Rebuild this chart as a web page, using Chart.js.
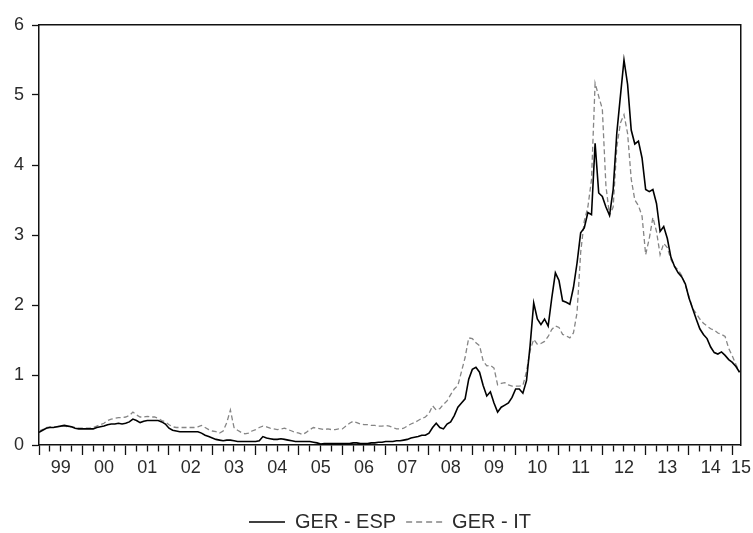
<!DOCTYPE html>
<html>
<head>
<meta charset="utf-8">
<script src="https://cdn.jsdelivr.net/npm/chart.js@4/dist/chart.umd.min.js"></script>
<style>
  html, body { margin: 0; padding: 0; background: #ffffff; }
  #wrap { width: 753px; height: 533px; }
</style>
</head>
<body>
<div id="wrap"><canvas id="chart" width="753" height="533"></canvas></div>
<script>
// Monthly 10-year bond yield spreads (percentage points), Jan 1999 - Mar 2015
const startYear = 1999;
const endX = 2015.2;

const gerEsp = [
  0.18, 0.21, 0.24, 0.25, 0.25, 0.26, 0.27, 0.28, 0.27, 0.26, 0.24, 0.23,  // 1999
  0.23, 0.23, 0.23, 0.23, 0.25, 0.26, 0.27, 0.29, 0.30, 0.30, 0.31, 0.30,  // 2000
  0.31, 0.33, 0.37, 0.35, 0.32, 0.34, 0.35, 0.35, 0.35, 0.35, 0.33, 0.30,  // 2001
  0.24, 0.21, 0.20, 0.19, 0.19, 0.19, 0.19, 0.19, 0.19, 0.17, 0.14, 0.12,  // 2002
  0.10, 0.08, 0.07, 0.06, 0.07, 0.07, 0.06, 0.05, 0.05, 0.05, 0.05, 0.05,  // 2003
  0.05, 0.06, 0.12, 0.10, 0.09, 0.08, 0.08, 0.09, 0.08, 0.07, 0.06, 0.05,  // 2004
  0.05, 0.05, 0.05, 0.05, 0.04, 0.03, 0.015, 0.02, 0.02, 0.02, 0.02, 0.02, // 2005
  0.02, 0.02, 0.02, 0.03, 0.03, 0.02, 0.02, 0.02, 0.03, 0.03, 0.04, 0.04,  // 2006
  0.05, 0.05, 0.05, 0.06, 0.06, 0.07, 0.08, 0.10, 0.11, 0.12, 0.14, 0.14,  // 2007
  0.17, 0.25, 0.31, 0.25, 0.23, 0.30, 0.33, 0.42, 0.54, 0.60, 0.66, 0.94,  // 2008
  1.08, 1.11, 1.04, 0.85, 0.70, 0.76, 0.60, 0.47, 0.54, 0.57, 0.60, 0.68,  // 2009
  0.80, 0.80, 0.74, 0.92, 1.42, 2.03, 1.80, 1.72, 1.80, 1.70, 2.10, 2.46,  // 2010
  2.35, 2.06, 2.04, 2.01, 2.25, 2.60, 3.03, 3.10, 3.32, 3.29, 4.31, 3.60,  // 2011
  3.55, 3.40, 3.28, 3.65, 4.45, 4.98, 5.50, 5.15, 4.50, 4.30, 4.34, 4.10,  // 2012
  3.65, 3.62, 3.65, 3.45, 3.05, 3.12, 2.95, 2.68, 2.55, 2.46, 2.40, 2.30,  // 2013
  2.10, 1.95, 1.80, 1.66, 1.58, 1.52, 1.40, 1.32, 1.30, 1.33, 1.28, 1.22,  // 2014
  1.18, 1.12, 1.04                                                          // 2015
];

const gerIt = [
  0.20, 0.22, 0.25, 0.26, 0.26, 0.26, 0.27, 0.27, 0.26, 0.26, 0.25, 0.24,  // 1999
  0.24, 0.24, 0.24, 0.25, 0.27, 0.29, 0.31, 0.35, 0.37, 0.38, 0.39, 0.39,  // 2000
  0.40, 0.42, 0.47, 0.43, 0.40, 0.40, 0.41, 0.40, 0.40, 0.38, 0.35, 0.33,  // 2001
  0.29, 0.26, 0.25, 0.25, 0.25, 0.25, 0.25, 0.25, 0.26, 0.28, 0.25, 0.22,  // 2002
  0.20, 0.19, 0.17, 0.20, 0.32, 0.50, 0.25, 0.21, 0.18, 0.16, 0.17, 0.20,  // 2003
  0.22, 0.25, 0.27, 0.26, 0.24, 0.23, 0.22, 0.23, 0.24, 0.22, 0.20, 0.18,  // 2004
  0.17, 0.15, 0.18, 0.22, 0.25, 0.24, 0.23, 0.22, 0.23, 0.22, 0.22, 0.23,  // 2005
  0.23, 0.27, 0.31, 0.34, 0.32, 0.30, 0.29, 0.29, 0.28, 0.28, 0.27, 0.27,  // 2006
  0.28, 0.27, 0.25, 0.23, 0.23, 0.24, 0.27, 0.30, 0.32, 0.35, 0.38, 0.40,  // 2007
  0.45, 0.56, 0.50, 0.52, 0.58, 0.63, 0.72, 0.80, 0.85, 1.05, 1.25, 1.53,  // 2008
  1.52, 1.46, 1.42, 1.20, 1.13, 1.14, 1.10, 0.86, 0.88, 0.89, 0.86, 0.84,  // 2009
  0.84, 0.84, 0.85, 1.05, 1.35, 1.51, 1.44, 1.45, 1.48, 1.55, 1.65, 1.70,  // 2010
  1.68, 1.58, 1.56, 1.53, 1.60, 1.89, 2.75, 3.20, 3.40, 3.79, 5.17, 4.98,  // 2011
  4.80, 3.70, 3.28, 3.40, 4.25, 4.60, 4.72, 4.45, 3.80, 3.50, 3.42, 3.27,  // 2012
  2.72, 2.95, 3.25, 3.05, 2.72, 2.88, 2.82, 2.65, 2.55, 2.50, 2.42, 2.28,  // 2013
  2.12, 1.95, 1.88, 1.80, 1.74, 1.70, 1.66, 1.64, 1.60, 1.58, 1.55, 1.38,  // 2014
  1.27, 1.15, 1.04                                                          // 2015
];

const yearLabels = ['99', '00', '01', '02', '03', '04', '05', '06', '07',
                    '08', '09', '10', '11', '12', '13', '14', '15'];
const seriesNames = ['GER - ESP', 'GER - IT'];

// monthly observations placed on a fractional-year axis
const toPoints = (arr) => arr.map((v, i) => ({ x: startYear + i / 12, y: v }));

// quarterly tick marks; every fourth one starts a year
const quarterTicks = [];
for (let q = 0; q <= (yearLabels.length - 1) * 4; q++) quarterTicks.push(startYear + q / 4);
// year labels sit in the middle of each year, the last one at the axis end
const labelTicks = yearLabels.map((s, i) => Math.min(startYear + i + 0.5, endX));

const textColor = '#2b2b2b';
const frameColor = '#111111';
Chart.defaults.font.family = '"Liberation Sans", Arial, sans-serif';
Chart.defaults.color = textColor;

// legend samples take the line style of their dataset (width and dash)
const legendLabels = (chart) =>
  Chart.defaults.plugins.legend.labels.generateLabels(chart).map((item) => {
    const ds = chart.data.datasets[item.datasetIndex];
    return {
      ...item,
      strokeStyle: ds.borderColor,
      lineWidth: ds.borderWidth,
      lineDash: ds.borderDash ? [6, 4] : []
    };
  });

new Chart(document.getElementById('chart'), {
  type: 'line',
  data: {
    datasets: [
      {
        label: seriesNames[0],
        data: toPoints(gerEsp),
        borderColor: '#000000',
        backgroundColor: '#000000',
        borderWidth: 1.6,
        pointRadius: 0,
        pointStyle: 'line',
        tension: 0,
        xAxisID: 'x',
        yAxisID: 'y'
      },
      {
        label: seriesNames[1],
        data: toPoints(gerIt),
        borderColor: '#858585',
        backgroundColor: '#858585',
        borderWidth: 1.3,
        borderDash: [5, 3],
        pointRadius: 0,
        pointStyle: 'line',
        tension: 0,
        xAxisID: 'x',
        yAxisID: 'y'
      }
    ]
  },
  options: {
    responsive: false,
    animation: false,
    events: [],
    layout: { padding: { left: 0, right: 11, top: 25, bottom: -9 } },
    scales: {
      x: {
        type: 'linear',
        position: 'bottom',
        min: startYear,
        max: endX,
        afterBuildTicks: (s) => { s.ticks = quarterTicks.map(v => ({ value: v })); },
        afterFit: (s) => { s.height = 10; },
        ticks: { display: false },
        grid: {
          drawOnChartArea: false,
          drawTicks: true,
          tickLength: 10,
          tickColor: frameColor,
          tickWidth: 1.3,
          tickBorderDash: (c) => (c.index % 4 === 0 ? [] : [6, 40])
        },
        border: { display: true, color: frameColor, width: 1.5 }
      },
      xLabels: {
        type: 'linear',
        position: 'bottom',
        min: startYear,
        max: endX,
        afterBuildTicks: (s) => { s.ticks = labelTicks.map(v => ({ value: v })); },
        afterFit: (s) => { s.height = 47; },
        ticks: {
          autoSkip: false,
          maxRotation: 0,
          padding: 2,
          font: { size: 18 },
          color: textColor,
          callback: (v, i) => yearLabels[i]
        },
        grid: { display: false, drawTicks: false },
        border: { display: false }
      },
      xTop: {
        type: 'linear',
        position: 'top',
        min: startYear,
        max: endX,
        ticks: { display: false },
        grid: { display: false, drawTicks: false },
        border: { display: true, color: frameColor, width: 1.5 }
      },
      y: {
        type: 'linear',
        position: 'left',
        min: 0,
        max: 6,
        afterFit: (s) => { s.width = 39; },
        ticks: { stepSize: 1, padding: 8, font: { size: 18 }, color: textColor },
        grid: {
          drawOnChartArea: false,
          drawTicks: true,
          tickLength: 7,
          tickColor: frameColor,
          tickWidth: 1.3
        },
        border: { display: true, color: frameColor, width: 1.5 }
      },
      yRight: {
        type: 'linear',
        position: 'right',
        min: 0,
        max: 6,
        ticks: { display: false },
        grid: { display: false, drawTicks: false },
        border: { display: true, color: frameColor, width: 1.5 }
      }
    },
    plugins: {
      legend: {
        display: true,
        position: 'bottom',
        fullSize: false,
        labels: {
          usePointStyle: true,
          pointStyleWidth: 36,
          padding: 10,
          color: textColor,
          font: { size: 20 },
          generateLabels: legendLabels
        }
      },
      tooltip: { enabled: false }
    }
  }
});
</script>
</body>
</html>
